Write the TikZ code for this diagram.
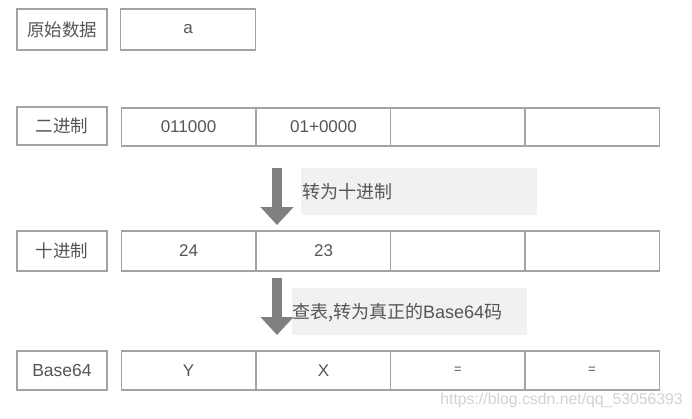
\documentclass[tikz,border=0pt]{standalone}
\usepackage{fontspec}
\setmainfont{Liberation Sans}
\newfontfamily\cjk{Noto Sans CJK SC}
\usetikzlibrary{arrows.meta}
\definecolor{boxline}{HTML}{A3A3A3}
\definecolor{txt}{HTML}{555555}
\definecolor{arrowgray}{HTML}{7F7F7F}
\definecolor{notefill}{HTML}{F1F1F1}
\definecolor{wm}{HTML}{D3D3D3}
\tikzset{
  lbl/.style={draw=boxline, line width=1.4pt, minimum width=90pt, inner sep=0pt, text=txt, font=\fontsize{17.5}{19}\selectfont\cjk},
  cell/.style={draw=boxline, line width=1.4pt, minimum width=134.5pt, inner sep=0pt, text=txt, font=\fontsize{17}{19}\selectfont},
  note/.style={fill=notefill, draw=none, inner sep=0pt},
  notetext/.style={anchor=west, inner sep=0pt, text=txt, font=\fontsize{18}{20}\selectfont\cjk},
  bigarrow/.style={draw=arrowgray, line width=10pt, -{Triangle[width=32pt,length=18pt]}}
}
\begin{document}
\begin{tikzpicture}[x=1pt,y=-1pt]
\useasboundingbox[fill=white] (0,0) rectangle (692,418);
% row 1
\node[lbl, minimum height=41pt] (l1) at (62,29.5) {原始数据};
\node[cell, minimum height=41pt] (r1c1) at (188,29.5) {a};
% row 2
\node[lbl, minimum height=38pt] (l2) at (62,126) {二进制};
\node[cell, minimum height=38pt] (r2c1) at (188.5,127) {011000};
\node[cell, minimum height=38pt] (r2c2) at (323.5,127) {01+0000};
\node[cell, minimum height=38pt] (r2c3) at (458,127) {};
\node[cell, minimum height=38pt] (r2c4) at (592,127) {};
% note 1
\node[note, minimum width=236pt, minimum height=47pt] (n1) at (419,191.5) {};
\node[notetext] (t1) at (302,192) {转为十进制};
\coordinate (a1s) at (277,168);
\coordinate (a1e) at (277,225);
\draw[bigarrow] (a1s) -- (a1e);
% row 3
\node[lbl, minimum height=40pt] (l3) at (62,251) {十进制};
\node[cell, minimum height=40pt] (r3c1) at (188.5,251) {24};
\node[cell, minimum height=40pt] (r3c2) at (323.5,251) {23};
\node[cell, minimum height=40pt] (r3c3) at (458,251) {};
\node[cell, minimum height=40pt] (r3c4) at (592,251) {};
% note 2
\node[note, minimum width=235pt, minimum height=47pt] (n2) at (409.5,311.5) {};
\node[notetext] (t2) at (292,313) {查表,转为真正的{\fontspec{Liberation Sans}Base64}码};
\coordinate (a2s) at (277,278);
\coordinate (a2e) at (277,335);
\draw[bigarrow] (a2s) -- (a2e);
% row 4
\node[lbl, minimum height=39pt, font=\fontsize{17.5}{19}\selectfont] (l4) at (62,370.5) {Base64};
\node[cell, minimum height=39pt] (r4c1) at (188.5,370.5) {Y};
\node[cell, minimum height=39pt] (r4c2) at (323.5,370.5) {X};
\node[cell, minimum height=39pt, font=\fontsize{13}{15}\selectfont] (r4c3) at (458,370.5) {=};
\node[cell, minimum height=39pt, font=\fontsize{13}{15}\selectfont] (r4c4) at (592,370.5) {=};
% watermark
\node[anchor=east, inner sep=0pt, text=wm, font=\fontsize{15.8}{17}\selectfont] (wmk) at (683,400) {https://blog.csdn.net/qq\_53056393};
\end{tikzpicture}
\end{document}
